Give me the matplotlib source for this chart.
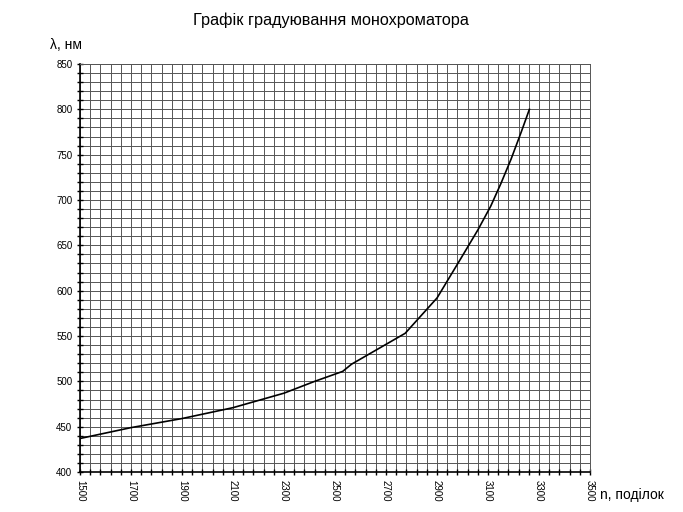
import matplotlib.pyplot as plt
from matplotlib.ticker import FixedLocator

plt.rcParams['font.family'] = ['Liberation Sans', 'DejaVu Sans']

# дані
n_div = [1500, 1700, 1900, 2100, 2300, 2420, 2530, 2565, 2775, 2900,
         2990, 3060, 3110, 3150, 3190, 3230, 3262]
wavelength = [437, 449, 459, 471, 487, 500, 511, 519, 553, 592,
              634, 667, 693, 718, 745, 775, 800]

x_major = list(range(1500, 3501, 200))
x_minor = list(range(1500, 3501, 40))
y_major = list(range(400, 851, 50))
y_minor = list(range(400, 851, 10))

title = 'Графік градуювання монохроматора'
ylab = 'λ, нм'
xlab = 'n, поділок'

fig = plt.figure(figsize=(6.83, 5.12), dpi=100)
ax = fig.add_axes([0.117, 0.078, 0.747, 0.797])

ax.plot(n_div, wavelength, color='black', linewidth=1.2)

ax.set_xlim(1500, 3500)
ax.set_ylim(400, 850)
ax.xaxis.set_major_locator(FixedLocator(x_major))
ax.xaxis.set_minor_locator(FixedLocator(x_minor))
ax.yaxis.set_major_locator(FixedLocator(y_major))
ax.yaxis.set_minor_locator(FixedLocator(y_minor))

# сітка
ax.grid(which='both', color='#555555', linewidth=0.7)
ax.set_axisbelow(True)

for s in ['top', 'right']:
    ax.spines[s].set_color('#555555')
    ax.spines[s].set_linewidth(0.7)
for s in ['left', 'bottom']:
    ax.spines[s].set_color('black')
    ax.spines[s].set_linewidth(1.2)

ax.tick_params(which='both', direction='inout', width=1.0, colors='black',
               labelsize=7, pad=3)
ax.tick_params(which='major', length=5)
ax.tick_params(which='minor', length=4)
for lbl in ax.get_xticklabels():
    lbl.set_rotation(-90)

fig.text(0.485, 0.96, title, ha='center', va='center', fontsize=11.7)
fig.text(0.073, 0.912, ylab, ha='left', va='center', fontsize=10)
fig.text(0.879, 0.033, xlab, ha='left', va='center', fontsize=10)

plt.savefig('out.png', dpi=100)
